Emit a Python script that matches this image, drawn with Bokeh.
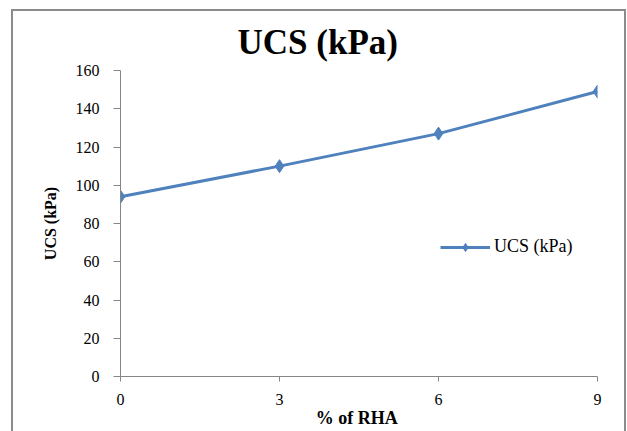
from bokeh.plotting import figure
from bokeh.models import Legend, LegendItem, FixedTicker, Range1d
from bokeh.embed import file_html
from bokeh.resources import INLINE

rha = [0, 3, 6, 9]
ucs = [94, 110, 127, 149]
y_ticks = [0, 20, 40, 60, 80, 100, 120, 140, 160]
x_ticks = [0, 3, 6, 9]
series_name = "UCS (kPa)"
chart_title = "UCS (kPa)"

BLUE = "#4F81BD"
SERIF = "Liberation Serif"

p = figure(width=611, height=420, output_backend="svg", toolbar_location=None,
           x_range=Range1d(0, 9), y_range=Range1d(0, 160),
           frame_width=477, frame_height=306,
           min_border_left=107, min_border_right=27, min_border_top=59, min_border_bottom=55)
p.styles = {"margin-left": "11px", "margin-top": "9px",
            "border-left": "2px solid #8c8c8c", "border-top": "2px solid #8c8c8c",
            "border-right": "2px solid #8c8c8c"}
p.xgrid.visible = False
p.ygrid.visible = False
p.outline_line_color = None
p.background_fill_color = "white"
p.border_fill_color = "white"

p.title.text = chart_title
p.title.text_font = SERIF
p.title.text_font_style = "bold"
p.title.text_font_size = "35px"
p.title.text_color = "#000000"
p.title.align = "left"
p.title.offset = 117
p.title.standoff = 18

for ax in (p.xaxis[0], p.yaxis[0]):
    ax.axis_line_color = "#868686"
    ax.major_tick_line_color = "#868686"
    ax.minor_tick_line_color = None
    ax.major_tick_in = 0
    ax.major_label_text_font = SERIF
    ax.major_label_text_font_size = "16px"
    ax.major_label_text_color = "#000000"
    ax.axis_label_text_font = SERIF
    ax.axis_label_text_font_style = "bold"
    ax.axis_label_text_color = "#000000"

p.xaxis.ticker = FixedTicker(ticks=x_ticks)
p.yaxis.ticker = FixedTicker(ticks=y_ticks)
p.xaxis.major_tick_out = 5
p.yaxis.major_tick_out = 7
p.xaxis.major_label_standoff = 12
p.yaxis.major_label_standoff = 14
p.xaxis.axis_label = "% of  RHA"
p.xaxis.axis_label_text_font_size = "18px"
p.xaxis.axis_label_standoff = 0
p.yaxis.axis_label = "UCS (kPa)"
p.yaxis.axis_label_text_font_size = "16px"
p.yaxis.axis_label_standoff = 14

r_line = p.line(rha, ucs, line_color=BLUE, line_width=3)
r_mark = p.scatter(rha, ucs, marker="diamond", size=13, fill_color=BLUE, line_color=BLUE)

legend = Legend(items=[LegendItem(label=series_name, renderers=[r_line, r_mark])],
                location=(320, 119), border_line_color=None, background_fill_alpha=0,
                padding=0, margin=0, glyph_width=50, glyph_height=20, label_height=20,
                label_standoff=4, label_text_font=SERIF, label_text_font_size="18px",
                label_text_color="#000000")
p.add_layout(legend)

open("out.html", "w").write(file_html(p, INLINE))
